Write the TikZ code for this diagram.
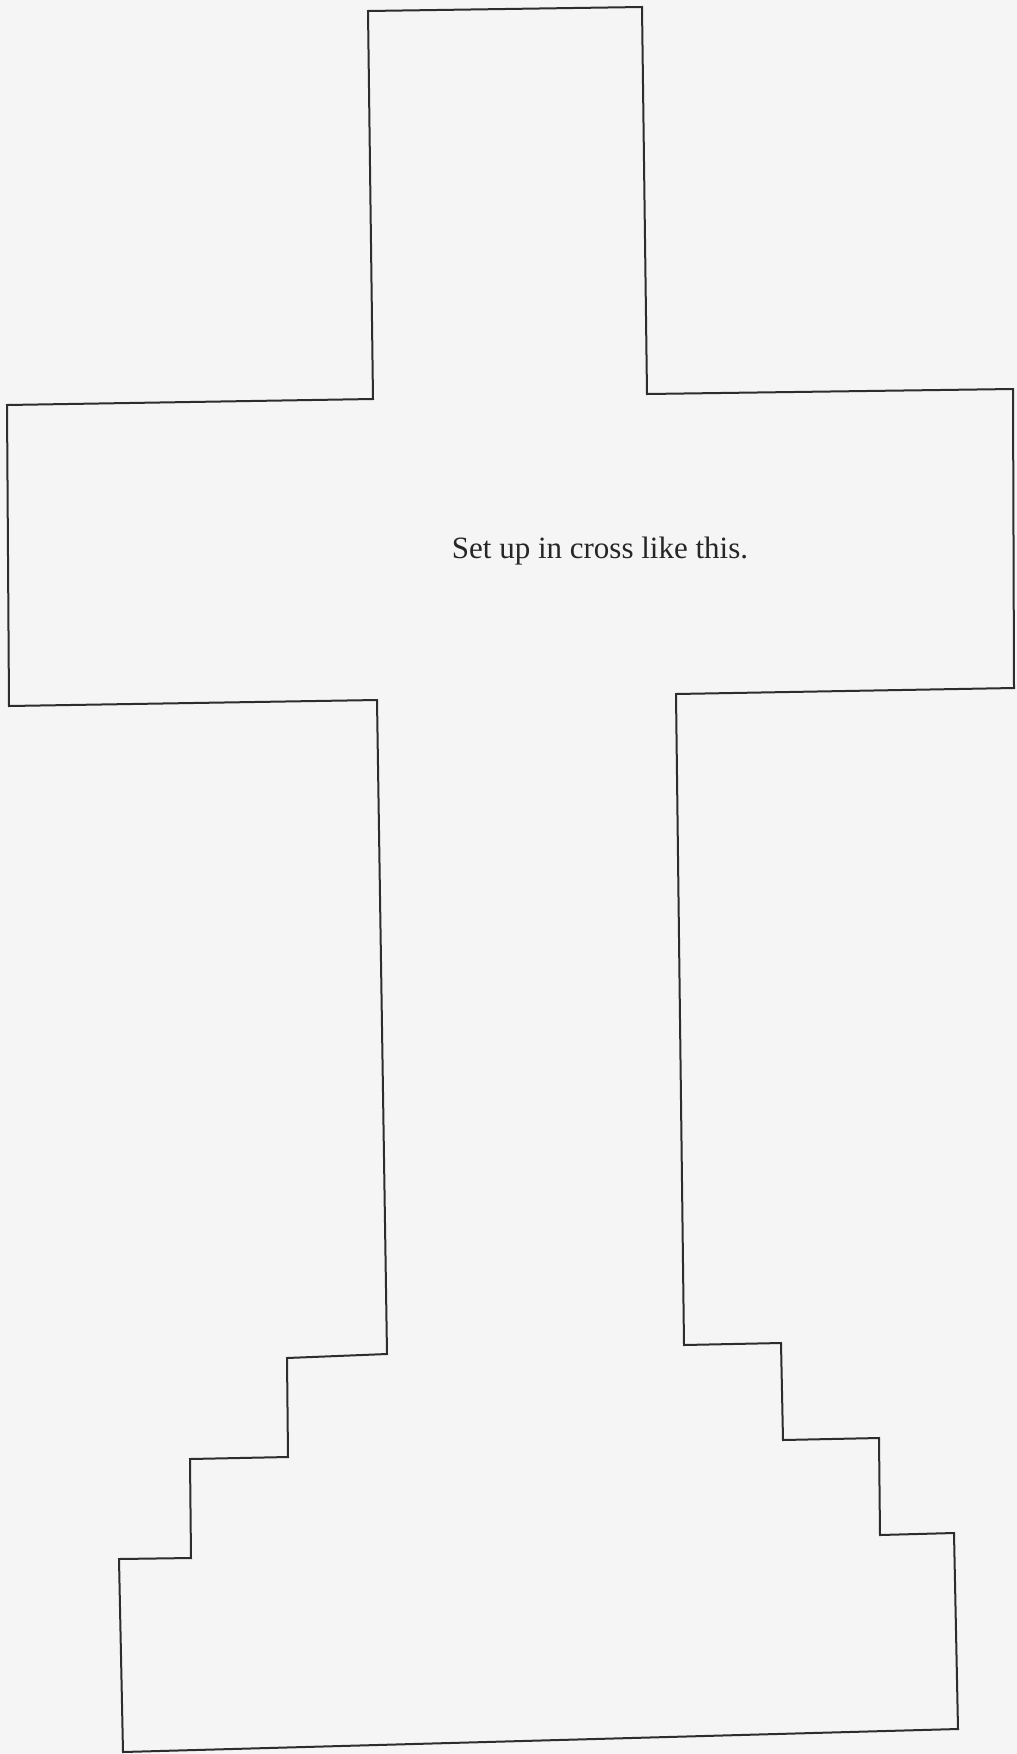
\documentclass[tikz,border=0pt]{standalone}
\usepackage{fontspec}
\setmainfont{Liberation Serif}
\definecolor{paper}{RGB}{245,245,245}
\definecolor{ink}{RGB}{45,45,45}
\tikzset{outline/.style={draw=ink, line width=2pt, line join=miter}}
\begin{document}
\begin{tikzpicture}[x=1pt,y=-1pt]
\fill[paper] (0,0) rectangle (1017,1754);
\useasboundingbox (0,0) rectangle (1017,1754);
\draw[outline]
  (368,11) -- (642,7) -- (647,394) -- (1013,389) -- (1014,688)
  -- (676,694) -- (684,1345) -- (781,1343) -- (783,1440)
  -- (879,1438) -- (880,1535) -- (954,1533) -- (958,1729)
  -- (123,1752) -- (119,1559) -- (191,1558) -- (190,1459)
  -- (288,1457) -- (287,1358) -- (387,1354) -- (377,700)
  -- (9,706) -- (7,405) -- (373,399) -- cycle;
\node[anchor=base, font=\fontsize{31}{36}\selectfont, text=black!85, inner sep=0pt] (label) at (600,558) {Set up in cross like this.};
\end{tikzpicture}
\end{document}
